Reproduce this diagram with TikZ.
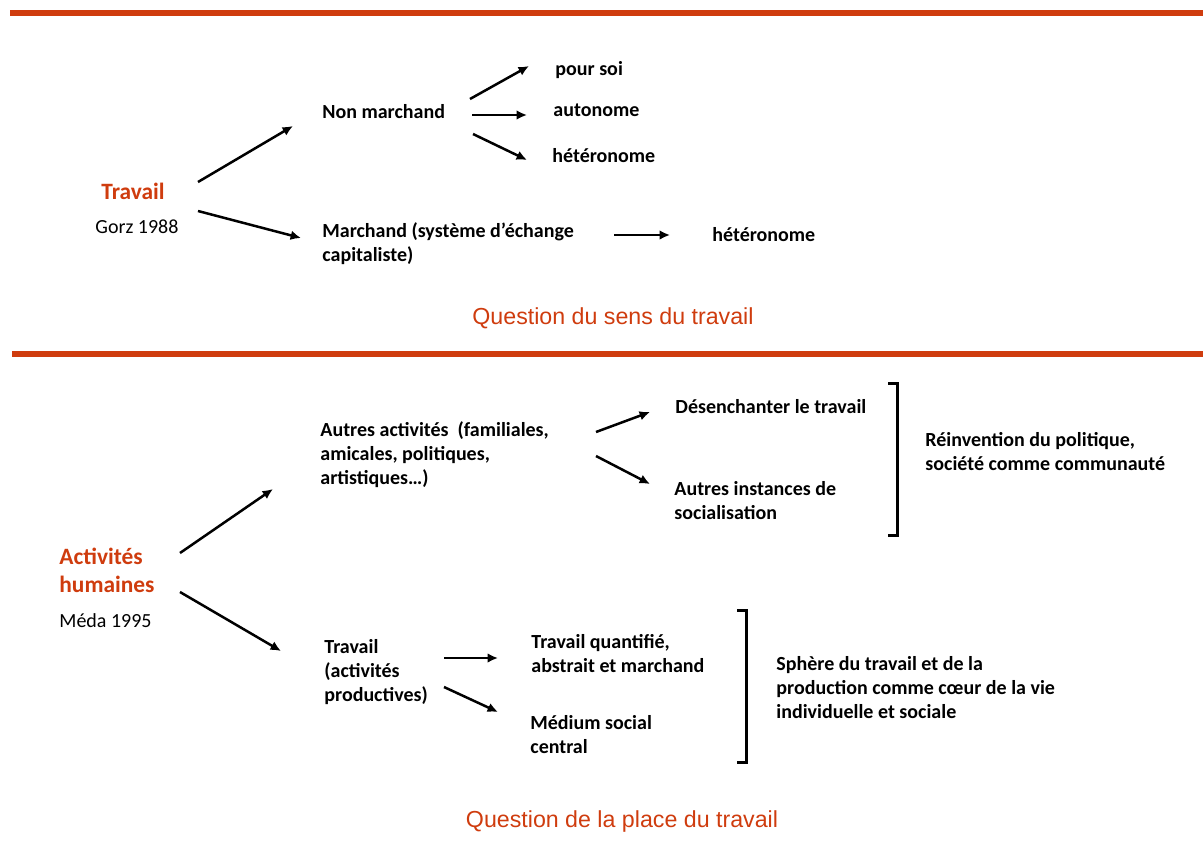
\documentclass[tikz,border=0pt]{standalone}
\usepackage{fontspec}
\setmainfont{Carlito}
\newfontfamily\arialf{Liberation Sans}
\usetikzlibrary{arrows.meta}
\definecolor{rouge}{RGB}{207,60,14}

\begin{document}
\begin{tikzpicture}[x=0.5pt,y=-0.5pt,
    lbl/.style={anchor=west,inner sep=0pt,align=left,
      font=\fontsize{10}{12}\selectfont\bfseries},
    hd/.style={anchor=west,inner sep=0pt,align=left,text=rouge,
      font=\fontsize{11.7}{14}\selectfont\bfseries},
    src/.style={anchor=west,inner sep=0pt,font=\fontsize{10}{12}\selectfont},
    qst/.style={inner sep=0pt,text=rouge,font=\arialf\fontsize{11.6}{14}\selectfont},
    arr/.style={-{Latex[length=5.2pt,width=4.8pt]},line width=1.25pt},
    brk/.style={line width=1.5pt},
    rule/.style={rouge,line width=2.6pt}]
  \useasboundingbox (0,0) rectangle (1203,846);

  % sens du travail
  \draw[rule] (10,13) -- (1203,13);
  \node[hd] (travail) at (101,191) {Travail};
  \node[src] (gorz) at (95,227) {Gorz 1988};
  \node[lbl] (nonmarch) at (322,112) {Non marchand};
  \node[lbl] (poursoi) at (555,70) {pour soi};
  \node[lbl] (auton) at (553,110) {autonome};
  \node[lbl] (hetA) at (552,156) {hétéronome};
  \node[lbl] (march) at (322,244) {Marchand (système d’échange\\capitaliste)};
  \node[lbl] (hetB) at (712,235) {hétéronome};
  \node[qst] (qsens) at (613,318) {Question du sens du travail};

  \draw[arr] ([shift={(97,-9)}]travail.west) -- ([shift={(-29,14)}]nonmarch.west);
  \draw[arr] ([shift={(97,20)}]travail.west) -- ([shift={(-21,-6)}]march.west);
  \draw[arr] ([shift={(148,-13)}]nonmarch.west) -- ([shift={(-26,-4)}]poursoi.west);
  \draw[arr] ([shift={(150,3)}]nonmarch.west) -- ([shift={(-26,5)}]auton.west);
  \draw[arr] ([shift={(151,22)}]nonmarch.west) -- ([shift={(-25,4)}]hetA.west);
  \draw[arr] ([shift={(292,-9)}]march.west) -- ([shift={(-42,0)}]hetB.west);

  % place du travail
  \draw[rule] (12,354) -- (1203,354);
  \node[hd] (activ) at (59,570) {Activités\\humaines};
  \node[src] (meda) at (59,621) {Méda 1995};
  \node[lbl] (autres) at (320,455) {Autres activités~ (familiales,\\amicales, politiques,\\artistiques…)};
  \node[lbl] (desench) at (675,407) {Désenchanter le travail};
  \node[lbl] (instances) at (674,501) {Autres instances de\\socialisation};
  \node[lbl] (reinv) at (925,452) {Réinvention du politique,\\société comme communauté};
  \node[lbl] (travB) at (324,672) {Travail\\(activités\\productives)};
  \node[lbl] (quantif) at (531,654) {Travail quantifié,\\abstrait et marchand};
  \node[lbl] (medium) at (530,735) {Médium social\\central};
  \node[lbl] (sphere) at (776,688) {Sphère du travail et de la\\production comme cœur de la vie\\individuelle et sociale};
  \node[qst] (qplace) at (622,821) {Question de la place du travail};

  \draw[arr] ([shift={(121,-17)}]activ.west) -- ([shift={(-47,34)}]autres.west);
  \draw[arr] ([shift={(121,22)}]activ.west) -- ([shift={(-43,-21)}]travB.west);
  \draw[arr] ([shift={(276,-23)}]autres.west) -- ([shift={(-25,5)}]desench.west);
  \draw[arr] ([shift={(276,1)}]autres.west) -- ([shift={(-24,-17)}]instances.west);
  \draw[arr] ([shift={(120,-14)}]travB.west) -- ([shift={(-33,4)}]quantif.west);
  \draw[arr] ([shift={(120,15)}]travB.west) -- ([shift={(-32,-23)}]medium.west);

  \draw[brk] (888,383) -- (897,383) -- (897,535) -- (888,535);
  \draw[brk] (737,610) -- (746,610) -- (746,762) -- (737,762);
\end{tikzpicture}
\end{document}
